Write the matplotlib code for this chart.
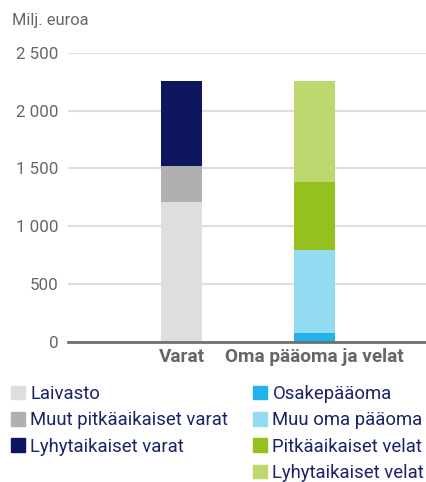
import matplotlib as mpl
import numpy as np
import matplotlib.pyplot as plt
from matplotlib.patches import Patch
from matplotlib.ticker import FuncFormatter

mpl.rcParams['font.family'] = ['Roboto', 'DejaVu Sans']

# Data (milj. euroa)
categories = ['Varat', 'Oma pääoma ja velat']
assets_labels = ['Laivasto', 'Muut pitkäaikaiset varat', 'Lyhytaikaiset varat']
assets_values = [1214, 311, 730]
liab_labels = ['Osakepääoma', 'Muu oma pääoma', 'Pitkäaikaiset velat', 'Lyhytaikaiset velat']
liab_values = [78, 718, 588, 871]
yticks = [0, 500, 1000, 1500, 2000, 2500]

assets_colors = ['#dedede', '#b0b0b0', '#0e1660']
liab_colors = ['#22b3e8', '#93dbf3', '#95c11f', '#bdd86e']

fig = plt.figure(figsize=[4.26, 4.82], dpi=100)
ax = fig.add_axes([0.16, 0.2905, 0.84, 0.6])

width = 0.31
bottom = 0
for val, col in zip(assets_values, assets_colors):
    ax.bar(0, val, width, bottom=bottom, color=col, zorder=3)
    bottom += val
bottom = 0
for val, col in zip(liab_values, liab_colors):
    ax.bar(1, val, width, bottom=bottom, color=col, zorder=3)
    bottom += val

ax.set_xlim(-0.853, 1.84)
ax.set_ylim(0, 2500)
ax.set_yticks(yticks)
ax.yaxis.set_major_formatter(FuncFormatter(lambda v, p: f'{int(v):,}'.replace(',', ' ')))
ax.set_xticks([0, 1])
ax.set_xticklabels(categories, fontsize=13.7, fontweight='bold', color='#666666')
ax.tick_params(axis='x', length=0, pad=4)
ax.tick_params(axis='y', length=0, pad=7, labelsize=12.2, labelcolor='#666666')
ax.grid(axis='y', color='#dddddd', linewidth=1.5, zorder=0)
for s in ['top', 'right', 'left']:
    ax.spines[s].set_visible(False)
ax.spines['bottom'].set_color('#707070')
ax.spines['bottom'].set_linewidth(2)
ax.spines['bottom'].set_zorder(4)

fig.text(12 / 426, 1 - 20 / 482, 'Milj. euroa', fontsize=11.8, color='#666666', va='center')

text_col = '#1a2368'
h1 = [Patch(color=c) for c in assets_colors]
h2 = [Patch(color=c) for c in liab_colors]
kw = dict(frameon=False, fontsize=13.3, labelcolor=text_col, handlelength=0.75,
          handleheight=0.75, handletextpad=0.3, labelspacing=0.45, borderaxespad=0,
          borderpad=0)
fig.legend(h1, assets_labels, loc='upper left', bbox_to_anchor=(11 / 426, 1 - 385 / 482), **kw)
fig.legend(h2, liab_labels, loc='upper left', bbox_to_anchor=(253 / 426, 1 - 385 / 482), **kw)

fig.savefig('out.png')
